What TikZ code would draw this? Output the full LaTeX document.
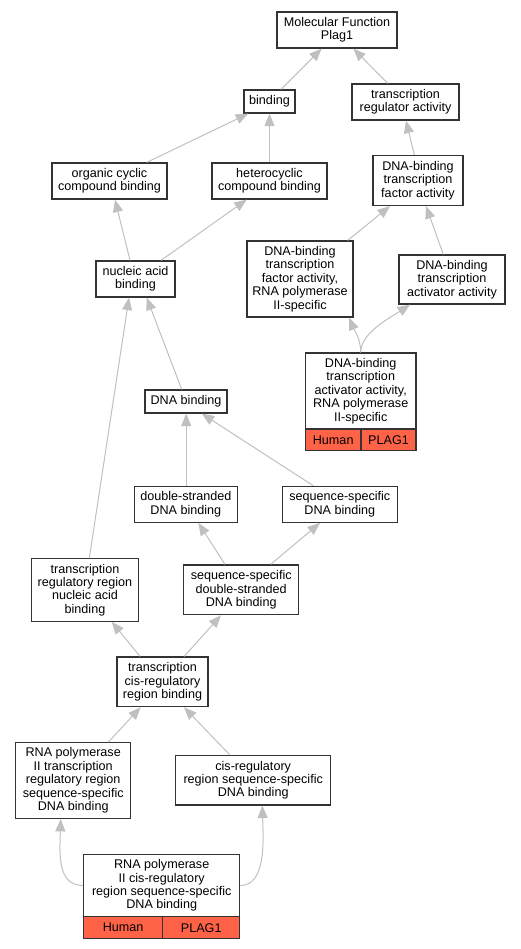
\documentclass[tikz,border=0pt]{standalone}
\usepackage{fontspec}
\setmainfont{Liberation Sans}
\usetikzlibrary{arrows.meta}
\definecolor{edgegray}{HTML}{C0C0C0}
\definecolor{boxline}{HTML}{333333}
\definecolor{tomatofill}{HTML}{FF6347}
\tikzset{
  term/.style={draw=boxline, line width=1.2pt, fill=white, inner sep=0pt, align=center,
    font=\fontsize{12.6}{13.4}\selectfont},
  cell/.style={term, fill=tomatofill},
  isa/.style={draw=edgegray, line width=1pt, -{Triangle[length=12.5pt,width=10pt]}}
}
\begin{document}
\begin{tikzpicture}[x=1pt,y=-1pt]
\useasboundingbox (0,0) rectangle (521,949);
% nodes
\node[term, minimum width=120pt, minimum height=36pt] (mf) at (337,30) {Molecular Function\\Plag1};
\node[term, minimum width=51pt, minimum height=23pt] (bind) at (269.5,101.5) {binding};
\node[term, minimum width=107pt, minimum height=36pt] (tra) at (405.5,102) {transcription\\regulator activity};
\node[term, minimum width=115pt, minimum height=36pt] (ocb) at (109.5,181) {organic cyclic\\compound binding};
\node[term, minimum width=115pt, minimum height=36pt] (hcb) at (269.5,181) {heterocyclic\\compound binding};
\node[term, minimum width=90pt, minimum height=50pt] (dtf) at (418,180.5) {DNA-binding\\transcription\\factor activity};
\node[term, minimum width=79pt, minimum height=36pt] (nab) at (135.5,279) {nucleic acid\\binding};
\node[term, minimum width=106pt, minimum height=76pt] (dtf2) at (300,279) {DNA-binding\\transcription\\factor activity,\\RNA polymerase\\II-specific};
\node[term, minimum width=106pt, minimum height=49pt] (dta) at (452,279.5) {DNA-binding\\transcription\\activator activity};
\node[term, minimum width=110.7pt, minimum height=76pt] (dta2) at (360.7,391) {DNA-binding\\transcription\\activator activity,\\RNA polymerase\\II-specific};
\node[cell, minimum width=55.7pt, minimum height=21.7pt] (dta2h) at (333.2,439.85) {Human};
\node[cell, minimum width=55pt, minimum height=21.7pt] (dta2p) at (388.5,439.85) {PLAG1};
\node[term, minimum width=82pt, minimum height=23pt] (dnab) at (186,401.5) {DNA binding};
\node[term, minimum width=103pt, minimum height=36pt] (dsdb) at (185.8,504.3) {double-stranded\\DNA binding};
\node[term, minimum width=115pt, minimum height=36pt] (ssdb) at (339.8,504.3) {sequence-specific\\DNA binding};
\node[term, minimum width=106.6pt, minimum height=62.3pt] (trrna) at (85,590) {transcription\\regulatory region\\nucleic acid\\binding};
\node[term, minimum width=115pt, minimum height=49.7pt] (ssds) at (241.2,589.8) {sequence-specific\\double-stranded\\DNA binding};
\node[term, minimum width=91pt, minimum height=49.7pt] (tcrb) at (162.5,681.8) {transcription\\cis-regulatory\\region binding};
\node[term, minimum width=115pt, minimum height=75.6pt] (rp2t) at (73.2,780.5) {RNA polymerase\\II transcription\\regulatory region\\sequence-specific\\DNA binding};
\node[term, minimum width=155pt, minimum height=49.3pt] (crss) at (253.2,780.3) {cis-regulatory\\region sequence-specific\\DNA binding};
\node[term, minimum width=156pt, minimum height=62.4pt] (rp2c) at (161.7,885.5) {RNA polymerase\\II cis-regulatory\\region sequence-specific\\DNA binding};
\node[cell, minimum width=79pt, minimum height=22pt] (rp2ch) at (123.2,927.7) {Human};
\node[cell, minimum width=77pt, minimum height=22pt] (rp2cp) at (201.2,927.7) {PLAG1};
% edges
\draw[isa] ([xshift=11.5pt]bind.north) -- ([xshift=-15.3pt]mf.south);
\draw[isa] ([xshift=-17.8pt]tra.north) -- ([xshift=16.3pt]mf.south);
\draw[isa] ([xshift=37.2pt]ocb.north) -- ([xshift=-21.2pt]bind.south);
\draw[isa] (hcb.north) -- (bind.south);
\draw[isa] ([xshift=-3.7pt]dtf.north) -- ([xshift=0.5pt]tra.south);
\draw[isa] ([xshift=-5.5pt]nab.north) -- ([xshift=5.5pt]ocb.south);
\draw[isa] ([xshift=25.5pt]nab.north) -- ([xshift=-22.8pt]hcb.south);
\draw[isa] ([xshift=47.7pt]dtf2.north) -- ([xshift=-28pt]dtf.south);
\draw[isa] ([xshift=-8.7pt]dta.north) -- ([xshift=8pt]dtf.south);
\draw[isa] (dta2.north) .. controls +(0,-14) and +(5,12) .. ([xshift=49pt]dtf2.south);
\draw[isa] (dta2.north) .. controls +(0,-20) and +(-18,12) .. ([xshift=-42pt]dta.south);
\draw[isa] ([xshift=-4.3pt]dnab.north) -- ([xshift=11.2pt]nab.south);
\draw[isa] ([xshift=4.3pt]trrna.north) -- ([xshift=-6.5pt]nab.south);
\draw[isa] ([xshift=0.4pt]dsdb.north) -- ([xshift=0.2pt]dnab.south);
\draw[isa] ([xshift=-26.5pt]ssdb.north) -- ([xshift=15.7pt]dnab.south);
\draw[isa] ([xshift=-16.2pt]ssds.north) -- ([xshift=12.5pt]dsdb.south);
\draw[isa] ([xshift=29.5pt]ssds.north) -- ([xshift=-19.8pt]ssdb.south);
\draw[isa] ([xshift=-22.5pt]tcrb.north) -- ([xshift=26.7pt]trrna.south);
\draw[isa] ([xshift=21.8pt]tcrb.north) -- ([xshift=-20.2pt]ssds.south);
\draw[isa] ([xshift=35.1pt]rp2t.north) -- ([xshift=-21.8pt]tcrb.south);
\draw[isa] ([xshift=-23.2pt]crss.north) -- ([xshift=21.5pt]tcrb.south);
\draw[isa] (rp2c.west) .. controls +(-26,0) and +(-1,35) .. ([xshift=-12.5pt]rp2t.south);
\draw[isa] (rp2c.east) .. controls +(26,0) and +(1,35) .. ([xshift=9.1pt]crss.south);
\end{tikzpicture}
\end{document}
